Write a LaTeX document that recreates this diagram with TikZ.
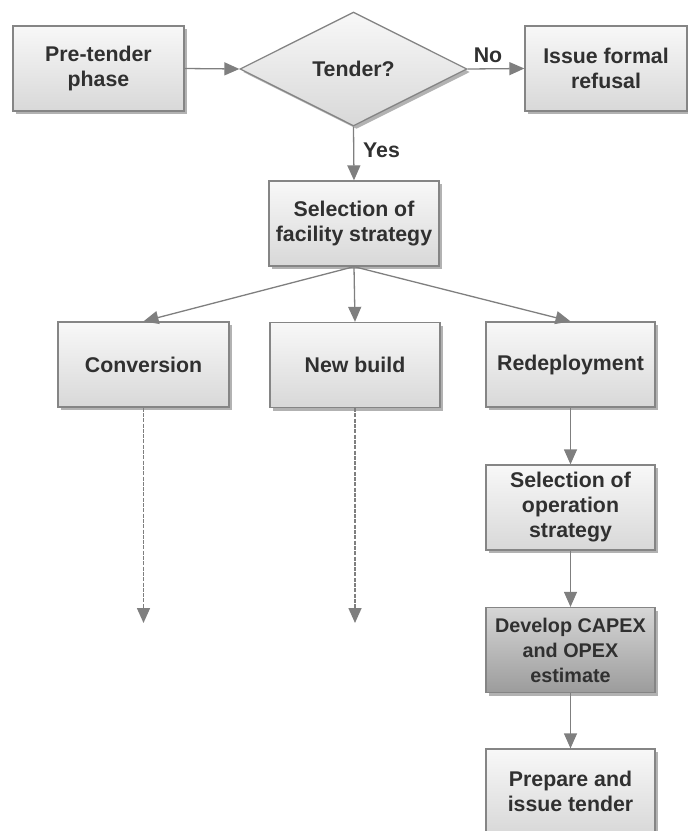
\documentclass[tikz,border=0pt]{standalone}
\usepackage{fontspec}
\setmainfont{Liberation Sans}
\usetikzlibrary{shapes.geometric,arrows.meta,shadows}

\definecolor{edgegray}{HTML}{858585}
\definecolor{linegray}{HTML}{7F7F7F}
\definecolor{txtgray}{HTML}{303030}
\definecolor{boxtop}{HTML}{F8F8F8}
\definecolor{boxbottom}{HTML}{D8D8D8}
\definecolor{darktop}{HTML}{D6D6D6}
\definecolor{darkbottom}{HTML}{9C9C9C}

\tikzset{
  labelfont/.style={font=\fontsize{21.3}{25}\selectfont\bfseries, text=txtgray},
  shape base/.style={
    labelfont, draw=edgegray, line width=1.3pt, align=center, inner sep=0pt,
    drop shadow={shadow xshift=3pt, shadow yshift=-3pt, fill=black, opacity=0.3}},
  stepbox/.style={shape base, rectangle, minimum width=170pt, minimum height=85pt,
    top color=boxtop, bottom color=boxbottom},
  darkbox/.style={stepbox, top color=darktop, bottom color=darkbottom},
  decision/.style={shape base, diamond, minimum width=227pt, minimum height=114pt,
    top color=boxtop, bottom color=boxbottom},
  flow/.style={draw=linegray, line width=1.3pt, -{Triangle[length=15pt,width=13pt]}},
  openflow/.style={flow, line width=1.6pt, dash pattern=on 4pt off 1.3pt},
  answer/.style={labelfont, inner sep=0pt}
}

\begin{document}
\begin{tikzpicture}[x=1pt,y=1pt]
  \useasboundingbox (0,0) rectangle (688,-831);
  \clip (0,0) rectangle (688,-831);

  % top row
  \node[stepbox, minimum width=171pt] (pre) at (98.5,-68.5) {Pre-tender\\phase};
  \node[decision] (tender) at (353.5,-69) {Tender?};
  \node[stepbox, minimum width=162pt] (refusal) at (606,-68.5) {Issue formal\\refusal};

  % facility strategy and its three options
  \node[stepbox] (facility) at (354,-223.5) {Selection of\\facility strategy};
  \node[stepbox, minimum width=171pt] (conv) at (143.5,-364.5) {Conversion};
  \node[stepbox] (newb) at (355,-365) {New build};
  \node[stepbox, minimum width=169pt] (redep) at (570.5,-364.5) {Redeployment};

  % redeployment branch
  \node[stepbox, minimum width=169pt] (opstrat) at (570.5,-507.5) {Selection of\\operation\\strategy};
  \node[darkbox, minimum width=169pt, font=\fontsize{19.8}{25}\selectfont\bfseries] (capex) at (570.5,-650) {Develop CAPEX\\and OPEX\\estimate};
  \node[stepbox, minimum width=169pt] (prep) at (570.5,-791.5) {Prepare and\\issue tender};

  % open ends of the other two options
  \coordinate (convend) at (143.5,-623);
  \coordinate (newbend) at (355,-623);

  % connectors
  \draw[flow] (pre.east) -- (tender.west);
  \draw[flow] (tender.east) -- (refusal.west);
  \draw[flow] (tender.south) -- (facility.north);
  \draw[flow] (facility.south) -- (conv.north);
  \draw[flow] (facility.south) -- (newb.north);
  \draw[flow] (facility.south) -- (redep.north);
  \draw[openflow] (conv.south) -- (convend);
  \draw[openflow] (newb.south) -- (newbend);
  \draw[flow] (redep.south) -- (opstrat.north);
  \draw[flow] (opstrat.south) -- (capex.north);
  \draw[flow] (capex.south) -- (prep.north);

  % decision answers
  \node[answer] (no) at (488,-55.5) {No};
  \node[answer] (yes) at (381.5,-150.5) {Yes};
\end{tikzpicture}
\end{document}
